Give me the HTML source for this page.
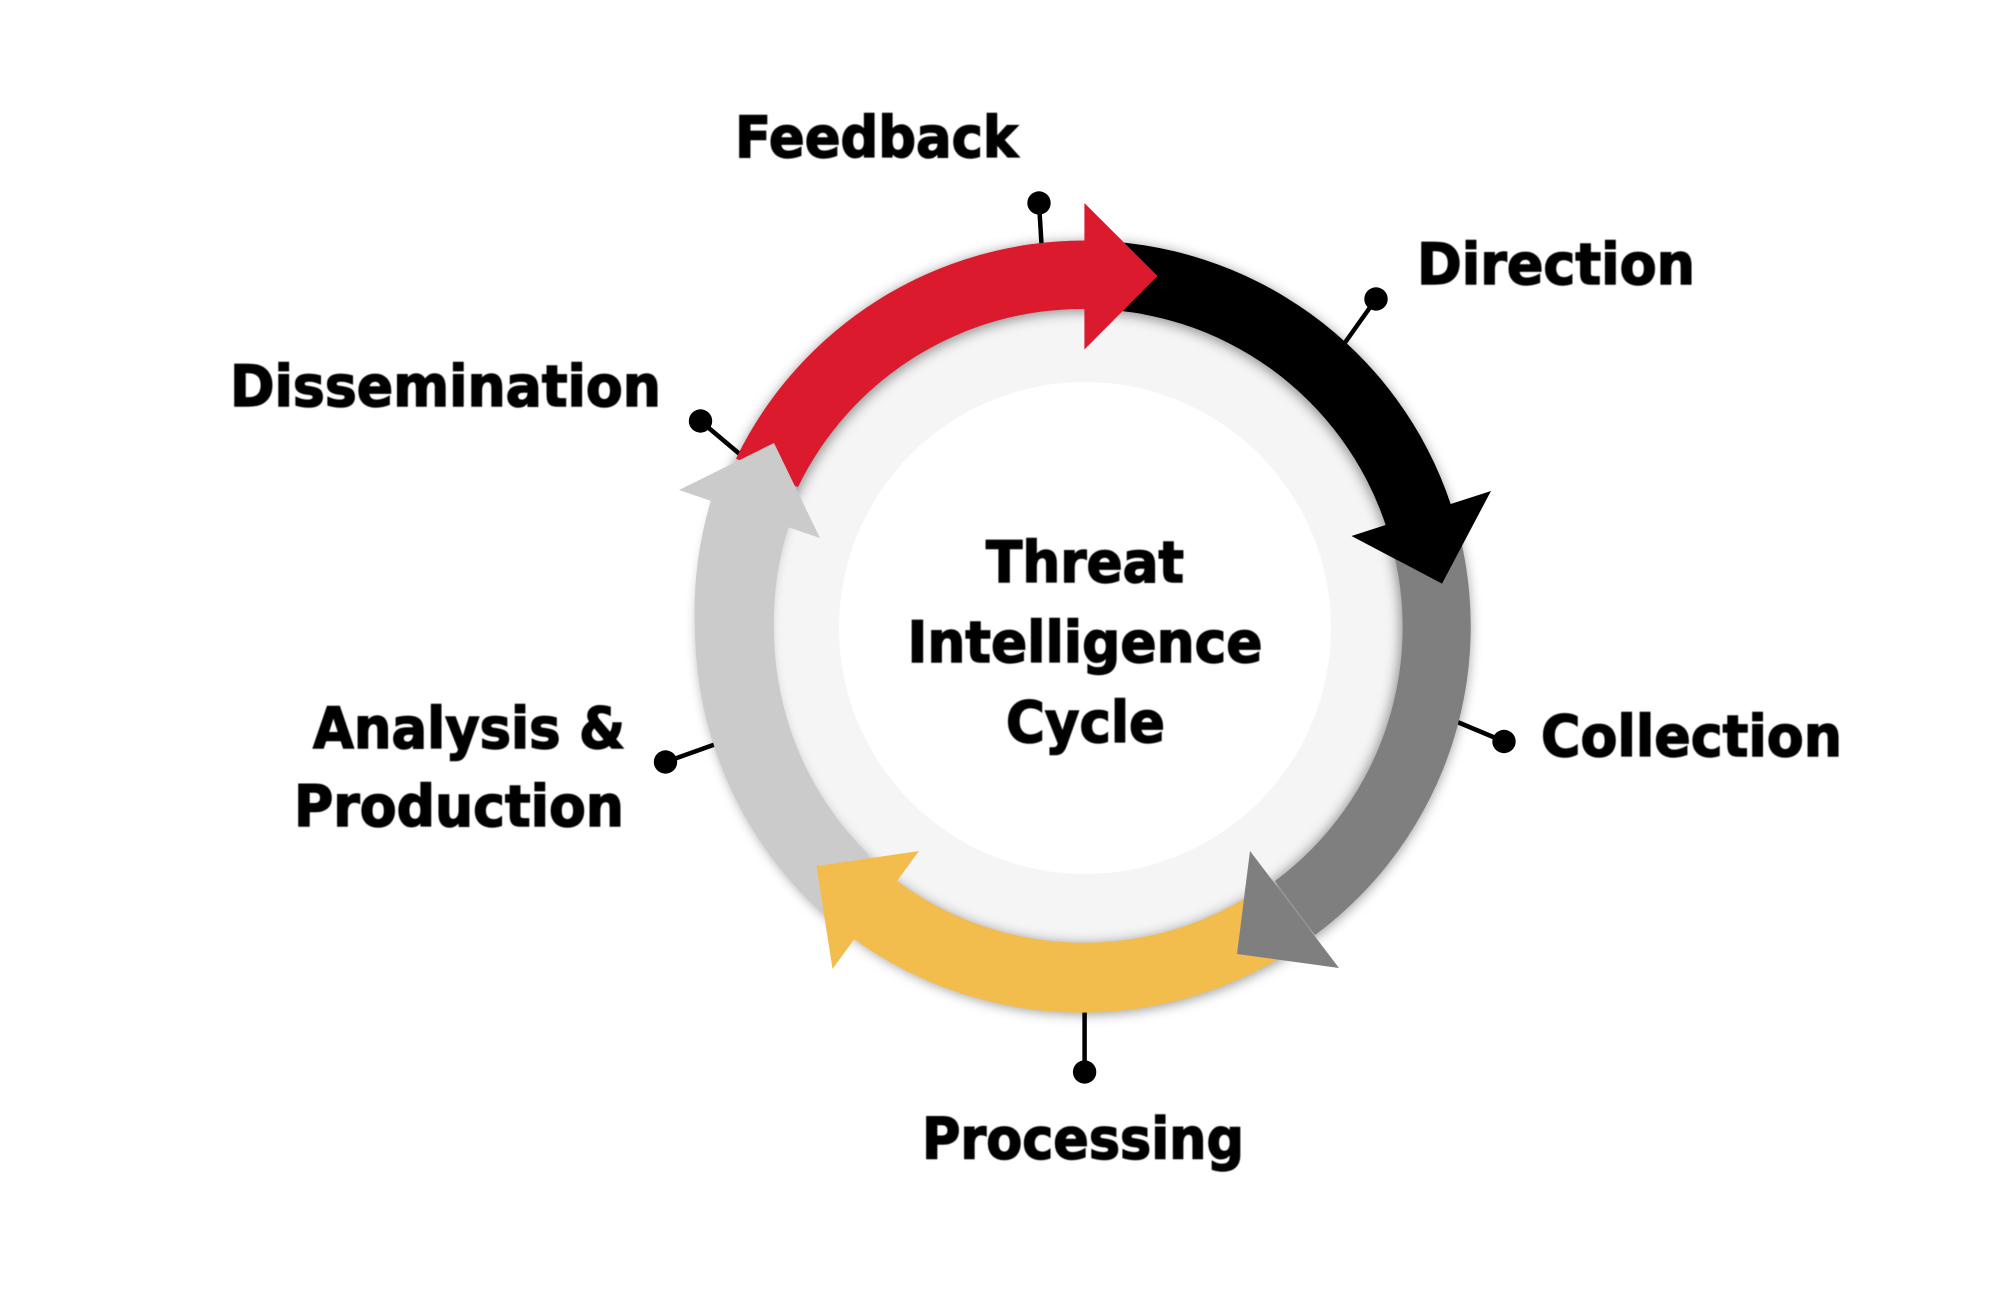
<!DOCTYPE html>
<html><head><meta charset="utf-8"><style>
html,body{margin:0;padding:0;background:#fff;width:2000px;height:1316px;overflow:hidden}
svg{display:block}
text{font-family:"DejaVu Sans","Liberation Sans",sans-serif;font-weight:700;font-size:57px;fill:#000;stroke:#000;stroke-width:1.5}
</style></head><body>
<svg width="2000" height="1316" viewBox="0 0 2000 1316" xmlns="http://www.w3.org/2000/svg">
<defs>
<filter id="s" x="-20%" y="-20%" width="140%" height="140%"><feGaussianBlur stdDeviation="6"/></filter>
<filter id="b" x="-2%" y="-2%" width="104%" height="104%"><feGaussianBlur stdDeviation=".6"/></filter>
</defs>
<rect width="2000" height="1316" fill="#fff"/>
<circle cx="1085" cy="627" r="330" fill="#f5f5f5"/>
<circle cx="1085" cy="628" r="246" fill="#fff"/>
<ellipse cx="1084" cy="628" rx="351" ry="351" fill="none" stroke="#000" stroke-opacity=".4" stroke-width="70" filter="url(#s)"/>
<g stroke="#000" stroke-width="4.5" fill="none">
<line x1="1039" y1="203" x2="1041.5" y2="244"/>
<line x1="1376" y1="299" x2="1344" y2="344"/>
<line x1="700.5" y1="421" x2="742" y2="456"/>
<line x1="1504" y1="741.5" x2="1455" y2="721"/>
<line x1="665.5" y1="762" x2="716" y2="744"/>
<line x1="1084.6" y1="1072" x2="1084.6" y2="1010"/>
</g>
<g fill="#000">
<circle cx="1039" cy="203" r="11.7"/><circle cx="1376" cy="299" r="11.7"/>
<circle cx="700.5" cy="421" r="11.7"/><circle cx="1504" cy="741.5" r="11.7"/>
<circle cx="665.5" cy="762" r="11.7"/><circle cx="1084.6" cy="1072" r="11.7"/>
</g>
<!-- bodies -->
<path fill="#cbcbcb" d="M854 939 A388 388 0 0 1 695 630 A388 388 0 0 1 712 497 L790 522 A316 316 0 0 0 774 630 A316 316 0 0 0 868 854 Z"/>
<path fill="#f3bd4e" d="M1290 952 A387 385 0 0 1 854 939 L897 881 A315 316 0 0 0 1244 899 Z"/>
<path fill="#7f7f7f" d="M1451 505 A387 385 0 0 1 1315 935 L1275 881 A316 316 0 0 0 1386 526 Z"/>
<path fill="#000" d="M1084.6 240.5 A387 385 0 0 1 1451 505 L1386 526 A316 316 0 0 0 1084.6 309 Z"/>
<path fill="#dc1a2e" d="M736 458.6 A387 385 0 0 1 1084.6 240.5 L1092 240.5 L1092 309 L1084.6 309 A316 316 0 0 0 798 487 Z"/>
<!-- heads -->
<polygon fill="#dc1a2e" points="1084.4,203 1157.5,276 1084.4,349.5"/>
<polygon fill="#000" points="1491,491 1442,583.6 1351.5,536"/>
<polygon fill="#7f7f7f" points="1250,851 1339,968 1237,954"/>
<polygon fill="#f3bd4e" points="919,851 816.5,866 832.5,969"/>
<polygon fill="#cbcbcb" points="679,490 774,443 820,538"/>
<g filter="url(#b)">
<text x="735" y="157" textLength="283" lengthAdjust="spacingAndGlyphs">Feedback</text>
<text x="1417" y="284" textLength="278" lengthAdjust="spacingAndGlyphs">Direction</text>
<text x="230" y="406" textLength="431" lengthAdjust="spacingAndGlyphs">Dissemination</text>
<text x="1541" y="756" textLength="301" lengthAdjust="spacingAndGlyphs">Collection</text>
<text x="313" y="748" textLength="312" lengthAdjust="spacingAndGlyphs">Analysis &amp;</text>
<text x="294" y="826" textLength="330" lengthAdjust="spacingAndGlyphs">Production</text>
<text x="922" y="1158.5" textLength="322" lengthAdjust="spacingAndGlyphs">Processing</text>
<text x="986" y="582" textLength="198" lengthAdjust="spacingAndGlyphs">Threat</text>
<text x="907.5" y="662" textLength="355" lengthAdjust="spacingAndGlyphs">Intelligence</text>
<text x="1006" y="742" textLength="159" lengthAdjust="spacingAndGlyphs">Cycle</text>
</g>
</svg>
</body></html>
